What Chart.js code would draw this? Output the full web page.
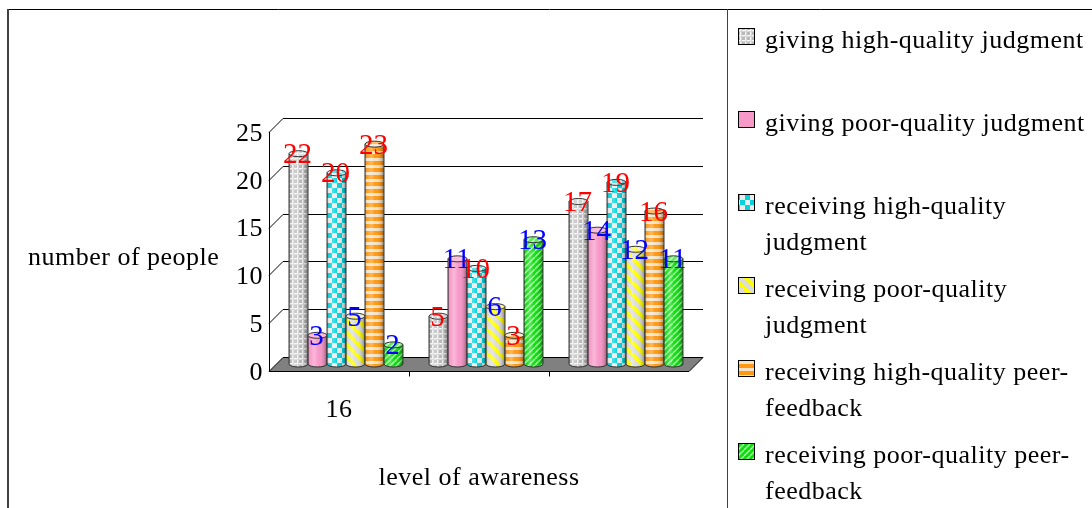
<!DOCTYPE html>
<html>
<head>
<meta charset="utf-8">
<title>number of people by level of awareness</title>
<script src="https://cdn.jsdelivr.net/npm/chart.js@4.4.1/dist/chart.umd.min.js"></script>
<style>
  html, body { margin: 0; padding: 0; background: #fff; }
  #chart { display: block; }
</style>
</head>
<body>
<canvas id="chart" width="1092" height="508"></canvas>
<script>
// ---- data ----
const categories = ['16', '', ''];
const seriesNames = [
  'giving high-quality judgment',
  'giving poor-quality judgment',
  'receiving high-quality judgment',
  'receiving poor-quality judgment',
  'receiving high-quality peer-feedback',
  'receiving poor-quality peer-feedback'
];
const givingHigh = [22, 5, 17];
const givingPoor = [3, 11, 14];
const receivingHighJudgment = [20, 10, 19];
const receivingPoorJudgment = [5, 6, 12];
const receivingHighPeer = [23, 3, 16];
const receivingPoorPeer = [2, 13, 11];
const yMin = 0, yMax = 25, yStep = 5;
const yTitle = 'number of people';
const xTitle = 'level of awareness';

// ---- styling ----
const FONT = '"Liberation Serif", "Times New Roman", serif';
const DEPTH = 14;            // 3-D depth of the plot box
const HALF = DEPTH / 2;      // bars stand in the middle of the floor
const labelColors = ['#ff0000', '#0000ff', '#ff0000', '#0000ff', '#ff0000', '#0000ff'];

function tile(w, h, paint) {
  const c = document.createElement('canvas');
  c.width = w; c.height = h;
  paint(c.getContext('2d'), w, h);
  return c;
}
const tiles = [
  // grey plaid
  tile(5, 5, (g) => {
    g.fillStyle = '#b9b9b9'; g.fillRect(0, 0, 5, 5);
    g.fillStyle = '#f4f4f4'; g.fillRect(0, 0, 5, 1); g.fillRect(0, 0, 1, 5);
    g.fillStyle = '#d6d6d6'; g.fillRect(0, 1, 5, 1); g.fillRect(1, 0, 1, 5);
  }),
  // pink solid
  tile(4, 4, (g) => { g.fillStyle = '#f799c8'; g.fillRect(0, 0, 4, 4); }),
  // cyan checkerboard
  tile(10, 10, (g) => {
    g.fillStyle = '#ececec'; g.fillRect(0, 0, 10, 10);
    g.fillStyle = '#00d4dc'; g.fillRect(0, 0, 5, 5); g.fillRect(5, 5, 5, 5);
  }),
  // yellow diagonal stripes
  tile(12, 12, (g) => {
    g.fillStyle = '#dcdcdc'; g.fillRect(0, 0, 12, 12);
    g.strokeStyle = '#ffff00'; g.lineWidth = 3.5;
    for (let k = -12; k <= 12; k += 12) {
      g.beginPath(); g.moveTo(k, 0); g.lineTo(k + 12, 12); g.stroke();
    }
  }),
  // orange horizontal stripes
  tile(4, 7, (g) => {
    g.fillStyle = '#f6e2c4'; g.fillRect(0, 0, 4, 7);
    g.fillStyle = '#ff9914'; g.fillRect(0, 0, 4, 4);
  }),
  // green diagonal stripes
  tile(6, 6, (g) => {
    g.fillStyle = '#10dc10'; g.fillRect(0, 0, 6, 6);
    g.strokeStyle = '#b8ffb8'; g.lineWidth = 1.3;
    for (let k = -6; k <= 6; k += 6) {
      g.beginPath(); g.moveTo(k, 6); g.lineTo(k + 6, 0); g.stroke();
    }
  })
];
const ctx0 = document.getElementById('chart').getContext('2d');
const patterns = tiles.map((t) => ctx0.createPattern(t, 'repeat'));

const seriesValues = [givingHigh, givingPoor, receivingHighJudgment,
  receivingPoorJudgment, receivingHighPeer, receivingPoorPeer];

const datasets = seriesValues.map((vals, i) => ({
  label: seriesNames[i],
  data: vals,
  backgroundColor: patterns[i],
  borderWidth: 0,
  categoryPercentage: 0.814,
  barPercentage: 1.0
}));

function wrapText(ctx, text, maxW) {
  const tokens = text.match(/[^ -]+-?\s*/g) || [text];
  const lines = [];
  let line = '';
  for (const tok of tokens) {
    const test = line + tok;
    if (line && ctx.measureText(test.trimEnd()).width > maxW) {
      lines.push(line.trimEnd());
      line = tok;
    } else {
      line = test;
    }
  }
  if (line) lines.push(line.trimEnd());
  return lines;
}

const box3d = {
  id: 'box3d',
  beforeDraw(chart) {
    const ctx = chart.ctx;
    ctx.letterSpacing = '0.5px';
    // outer frame and the divider in front of the legend
    ctx.save();
    ctx.strokeStyle = '#000'; ctx.lineWidth = 1;
    ctx.beginPath(); ctx.moveTo(7, 9.5); ctx.lineTo(1092, 9.5); ctx.stroke();
    ctx.strokeStyle = '#404040'; ctx.lineWidth = 2;
    ctx.beginPath(); ctx.moveTo(8, 9); ctx.lineTo(8, 508); ctx.stroke();
    ctx.lineWidth = 1;
    ctx.beginPath(); ctx.moveTo(727.5, 9); ctx.lineTo(727.5, 508); ctx.stroke();
    ctx.restore();
  },
  beforeDatasetsDraw(chart) {
    const { ctx, chartArea: { left, right, top, bottom }, scales: { x, y } } = chart;
    ctx.save();
    ctx.lineWidth = 1;
    ctx.strokeStyle = '#000';
    // back wall gridlines and side-wall diagonals
    for (let v = yMin; v <= yMax; v += yStep) {
      const py = Math.round(y.getPixelForValue(v)) + 0.5;
      ctx.beginPath();
      ctx.moveTo(left + DEPTH, py - DEPTH);
      ctx.lineTo(right + DEPTH, py - DEPTH);
      ctx.stroke();
      if (v > yMin) {
        ctx.beginPath();
        ctx.moveTo(left, py);
        ctx.lineTo(left + DEPTH, py - DEPTH);
        ctx.stroke();
      }
    }
    // floor
    const fb = Math.round(bottom) + 0.5;
    ctx.beginPath();
    ctx.moveTo(left, fb);
    ctx.lineTo(right, fb);
    ctx.lineTo(right + DEPTH, fb - DEPTH);
    ctx.lineTo(left + DEPTH, fb - DEPTH);
    ctx.closePath();
    ctx.fillStyle = '#808080';
    ctx.fill();
    ctx.stroke();
    // category boundary ticks on the floor edge
    for (let i = 1; i < categories.length; i++) {
      const px = Math.round((x.getPixelForValue(i - 1) + x.getPixelForValue(i)) / 2) + 0.5;
      ctx.beginPath(); ctx.moveTo(px, fb); ctx.lineTo(px, fb + 5); ctx.stroke();
    }
    // front value axis
    const ax = Math.round(left) + 0.5;
    ctx.beginPath(); ctx.moveTo(ax, Math.round(top)); ctx.lineTo(ax, fb); ctx.stroke();
    ctx.restore();
    // bars sit halfway into the depth of the box
    ctx.save();
    ctx.translate(HALF, -HALF);
  },
  afterDatasetsDraw(chart) {
    const ctx = chart.ctx;
    const ry = 3;
    chart.data.datasets.forEach((ds, di) => {
      const meta = chart.getDatasetMeta(di);
      meta.data.forEach((el) => {
        const cx = el.x, topY = el.y, base = el.base, w = el.width;
        const l = cx - w / 2, r = cx + w / 2, rx = w / 2;
        ctx.save();
        ctx.beginPath();
        ctx.moveTo(l, topY);
        ctx.lineTo(l, base);
        ctx.ellipse(cx, base, rx, ry, 0, Math.PI, 0, true);
        ctx.lineTo(r, topY);
        ctx.closePath();
        ctx.fillStyle = ds.backgroundColor;
        ctx.fill();
        const g = ctx.createLinearGradient(l, 0, r, 0);
        g.addColorStop(0, 'rgba(0,0,0,0.30)');
        g.addColorStop(0.12, 'rgba(255,255,255,0.05)');
        g.addColorStop(0.32, 'rgba(255,255,255,0.30)');
        g.addColorStop(0.55, 'rgba(255,255,255,0)');
        g.addColorStop(0.85, 'rgba(0,0,0,0.15)');
        g.addColorStop(1, 'rgba(0,0,0,0.40)');
        ctx.fillStyle = g;
        ctx.fill();
        ctx.strokeStyle = '#333';
        ctx.lineWidth = 1;
        ctx.stroke();
        // top face
        ctx.beginPath();
        ctx.ellipse(cx, topY, rx, ry, 0, 0, Math.PI * 2);
        ctx.fillStyle = ds.backgroundColor;
        ctx.fill();
        ctx.fillStyle = 'rgba(255,255,255,0.35)';
        ctx.fill();
        ctx.stroke();
        ctx.restore();
      });
    });
    // value labels
    ctx.save();
    ctx.font = '29px ' + FONT;
    ctx.letterSpacing = '0px';
    ctx.textAlign = 'center';
    ctx.textBaseline = 'middle';
    chart.data.datasets.forEach((ds, di) => {
      const meta = chart.getDatasetMeta(di);
      meta.data.forEach((el, i) => {
        ctx.fillStyle = labelColors[di];
        ctx.fillText(String(ds.data[i]), el.x - 1, el.y + 2);
      });
    });
    ctx.restore();
    ctx.restore();
  },
  afterDraw(chart) {
    const ctx = chart.ctx;
    ctx.save();
    ctx.letterSpacing = '0.5px';
    ctx.font = '26px ' + FONT;
    ctx.fillStyle = '#000';
    ctx.textAlign = 'left';
    ctx.textBaseline = 'alphabetic';
    // value axis title, written horizontally
    ctx.fillText(yTitle, 28, 265);
    // legend
    const boxX = 738, textX = 765, box = 17;
    let baseline = 48;
    chart.data.datasets.forEach((ds) => {
      ctx.fillStyle = ds.backgroundColor;
      ctx.fillRect(boxX, baseline - 20, box, box);
      ctx.strokeStyle = '#000';
      ctx.lineWidth = 1;
      ctx.strokeRect(boxX + 0.5, baseline - 19.5, box - 1, box - 1);
      ctx.fillStyle = '#000';
      const lines = wrapText(ctx, ds.label, 1092 - textX - 2);
      lines.forEach((ln, k) => ctx.fillText(ln, textX, baseline + k * 36));
      baseline += 83;
    });
    ctx.restore();
  }
};

new Chart(document.getElementById('chart'), {
  type: 'bar',
  data: { labels: categories, datasets },
  plugins: [box3d],
  options: {
    responsive: false,
    animation: false,
    devicePixelRatio: 1,
    layout: { padding: { left: 0, top: 132, right: 403, bottom: 0 } },
    plugins: {
      legend: { display: false },
      title: { display: false },
      tooltip: { enabled: false }
    },
    scales: {
      x: {
        type: 'category',
        grid: { display: false },
        border: { display: false },
        ticks: {
          font: { family: FONT, size: 26 },
          color: '#000',
          padding: 16,
          maxRotation: 0,
          autoSkip: false
        },
        title: {
          display: true,
          text: xTitle,
          font: { family: FONT, size: 26 },
          color: '#000',
          padding: { top: 0, bottom: 14 }
        },
        afterFit(s) { s.height = 137; }
      },
      y: {
        min: yMin,
        max: yMax,
        grid: { display: false, drawTicks: false },
        border: { display: false },
        ticks: {
          stepSize: yStep,
          font: { family: FONT, size: 26 },
          color: '#000',
          padding: 6,
          labelOffset: 2
        },
        afterFit(s) { s.width = 269; }
      }
    }
  }
});
</script>
</body>
</html>
